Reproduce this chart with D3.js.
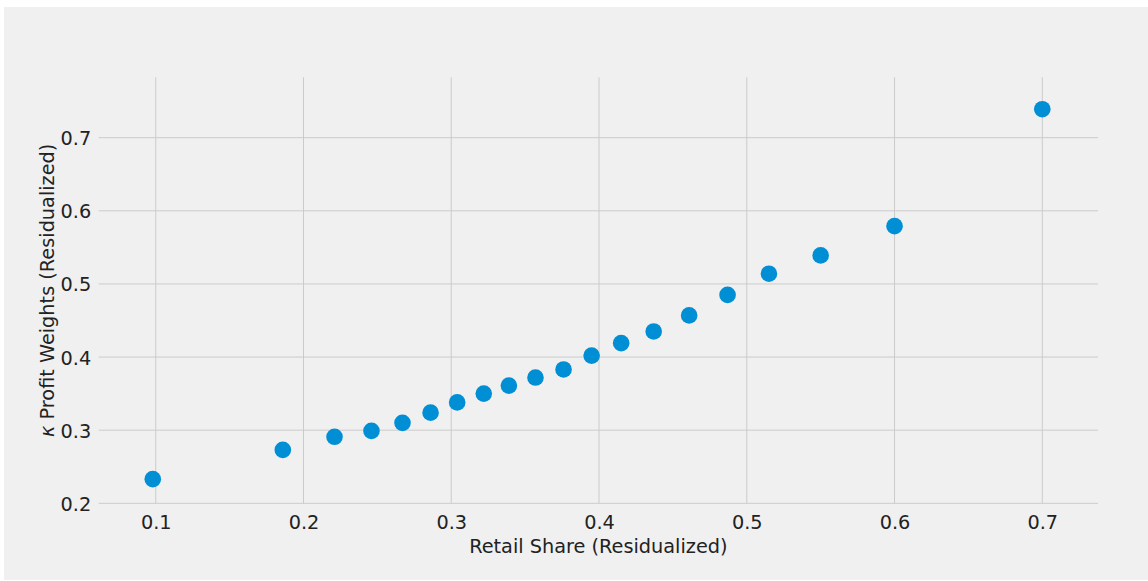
<!DOCTYPE html>
<meta charset="utf-8">
<style>
    body {
        margin: 0;
        background: #ffffff;
        font-family: "DejaVu Sans", sans-serif;
    }

    .grid line {
        stroke: #cbcbcb;
        stroke-width: 1;
    }

    .tick text {
        font-size: 19.3px;
        fill: #222;
    }
</style>

<body>
    <svg width="1148" height="581"></svg>

    <script src="https://d3js.org/d3.v7.min.js"></script>
    <script>
        // valeurs
        const retailShare = [0.098, 0.186, 0.221, 0.246, 0.267, 0.286, 0.304, 0.322, 0.339, 0.357,
            0.376, 0.395, 0.415, 0.437, 0.461, 0.487, 0.515, 0.550, 0.600, 0.700];
        const profitWeights = [0.233, 0.273, 0.291, 0.299, 0.310, 0.324, 0.338, 0.350, 0.361, 0.372,
            0.383, 0.402, 0.419, 0.435, 0.457, 0.485, 0.514, 0.539, 0.579, 0.739];
        const xTicks = [0.1, 0.2, 0.3, 0.4, 0.5, 0.6, 0.7];
        const yTicks = [0.2, 0.3, 0.4, 0.5, 0.6, 0.7];

        const points = retailShare.map((x, i) => ({ x, y: profitWeights[i] }));

        const svg = d3.select("svg");
        const margin = { top: 77.3, bottom: 503.3, left: 98.7, right: 1098 };

        // fond de la figure
        svg.append("rect")
            .attr("x", 4).attr("y", 7)
            .attr("width", 1144).attr("height", 573)
            .attr("fill", "#f0f0f0");

        const x = d3.scaleLinear()
            .domain([0.0614, 0.7377])
            .range([margin.left, margin.right]);

        const y = d3.scaleLinear()
            .domain([0.2, 0.7826])
            .range([margin.bottom, margin.top]);

        // grille verticale
        svg.append("g")
            .attr("class", "grid")
            .selectAll("line")
            .data(xTicks)
            .join("line")
            .attr("x1", d => x(d)).attr("x2", d => x(d))
            .attr("y1", margin.top).attr("y2", margin.bottom);

        // grille horizontale
        svg.append("g")
            .attr("class", "grid")
            .selectAll("line")
            .data(yTicks)
            .join("line")
            .attr("x1", margin.left).attr("x2", margin.right)
            .attr("y1", d => y(d)).attr("y2", d => y(d));

        // axes (sans trait, juste les étiquettes)
        const xAxis = svg.append("g")
            .attr("transform", `translate(0,${margin.bottom})`)
            .call(d3.axisBottom(x).tickValues(xTicks).tickFormat(d3.format(".1f")).tickSize(0).tickPadding(8));
        xAxis.select(".domain").remove();
        xAxis.selectAll("text").attr("font-family", "DejaVu Sans").attr("dy", "0.71em").attr("y", 12);

        const yAxis = svg.append("g")
            .attr("transform", `translate(${margin.left},0)`)
            .call(d3.axisLeft(y).tickValues(yTicks).tickFormat(d3.format(".1f")).tickSize(0).tickPadding(8));
        yAxis.select(".domain").remove();
        yAxis.selectAll("text").attr("font-family", "DejaVu Sans").attr("x", -7.5).attr("dy", "0.36em");

        // points
        svg.append("g")
            .selectAll("circle")
            .data(points)
            .join("circle")
            .attr("cx", d => x(d.x))
            .attr("cy", d => y(d.y))
            .attr("r", 8.3)
            .attr("fill", "#008fd5");

        // titres des axes
        svg.append("text")
            .attr("x", (margin.left + margin.right) / 2)
            .attr("y", 553)
            .attr("text-anchor", "middle")
            .attr("font-size", "19.3px")
            .attr("fill", "#222")
            .text("Retail Share (Residualized)");

        const yLabel = svg.append("text")
            .attr("transform", `translate(54,${(margin.top + margin.bottom) / 2}) rotate(-90)`)
            .attr("text-anchor", "middle")
            .attr("font-size", "19.3px")
            .attr("fill", "#222");
        yLabel.append("tspan").attr("font-style", "italic").text("κ");
        yLabel.append("tspan").text(" Profit Weights (Residualized)");
    </script>
</body>
